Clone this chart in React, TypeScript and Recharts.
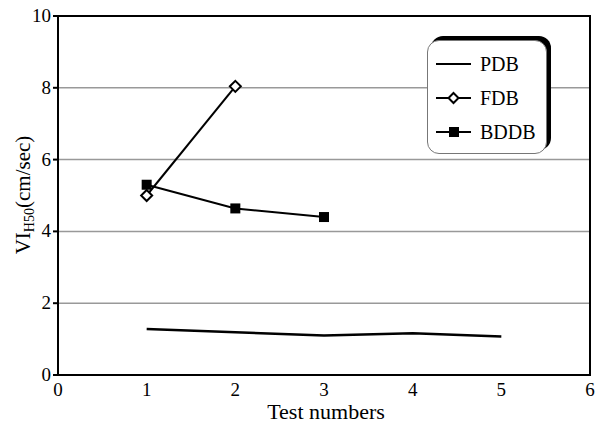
import React from "react";
import {
  LineChart,
  Line,
  XAxis,
  YAxis,
  CartesianGrid,
  ReferenceArea,
} from "recharts";

const testNumbers = [1, 2, 3, 4, 5];
const pdbValues = [1.28, 1.19, 1.1, 1.16, 1.07];
const fdbTests = [1, 2];
const fdbValues = [5.0, 8.04];
const bddbTests = [1, 2, 3];
const bddbValues = [5.3, 4.64, 4.4];
const seriesNames = ["PDB", "FDB", "BDDB"];
const xTicks = [0, 1, 2, 3, 4, 5, 6];
const yTicks = [0, 2, 4, 6, 8, 10];

const pdbData = testNumbers.map((x, i) => ({ x, y: pdbValues[i] }));
const fdbData = fdbTests.map((x, i) => ({ x, y: fdbValues[i] }));
const bddbData = bddbTests.map((x, i) => ({ x, y: bddbValues[i] }));

const FONT = "Liberation Serif";

const Diamond = (props: any) => {
  const { cx, cy } = props;
  if (cx == null || cy == null) return null;
  const r = 5.5;
  return (
    <polygon
      points={`${cx},${cy - r} ${cx + r},${cy} ${cx},${cy + r} ${cx - r},${cy}`}
      fill="#fff"
      stroke="#000"
      strokeWidth={2}
    />
  );
};

const Square = (props: any) => {
  const { cx, cy } = props;
  if (cx == null || cy == null) return null;
  return <rect x={cx - 5} y={cy - 5} width={10} height={10} fill="#000" />;
};

const XTick = (props: any) => {
  const { x, y, payload } = props;
  return (
    <text x={x} y={y + 13} textAnchor="middle" fontFamily={FONT} fontSize={19} fill="#000">
      {payload.value}
    </text>
  );
};

const YTick = (props: any) => {
  const { x, y, payload } = props;
  return (
    <text x={x} y={y + 6} textAnchor="end" fontFamily={FONT} fontSize={19} fill="#000">
      {payload.value}
    </text>
  );
};

const AxisTitles = () => (
  <g>
    <text
      transform="translate(30, 195) rotate(-90)"
      textAnchor="middle"
      fontFamily={FONT}
      fontSize={21}
      fill="#000"
    >
      VI
      <tspan fontSize={14} dy={4}>
        H50
      </tspan>
      <tspan dy={-4}>(cm/sec)</tspan>
    </text>
    <text x={326} y={419} textAnchor="middle" fontFamily={FONT} fontSize={22} fill="#000">
      Test numbers
    </text>
  </g>
);

const shapes = ["none", "diamond", "square"];

// legend drawn as plain html over the chart so it doesn't eat plot width
const LegendBox = () => (
  <div
    style={{
      position: "absolute",
      left: 427,
      top: 40,
      width: 120,
      height: 114,
      border: "1px solid #777",
      borderRadius: 12,
      background: "#fff",
      boxShadow: "4px -4px 0 #000",
      fontFamily: FONT,
      fontSize: 20,
      boxSizing: "border-box",
      paddingTop: 6,
    }}
  >
    {seriesNames.map((name, i) => (
      <div key={name} style={{ display: "flex", alignItems: "center", height: 34 }}>
        <svg width={52} height={20}>
          <line x1={8} y1={10} x2={43} y2={10} stroke="#000" strokeWidth={2} />
          {shapes[i] === "diamond" && (
            <polygon points="25.5,5 30.5,10 25.5,15 20.5,10" fill="#fff" stroke="#000" strokeWidth={2} />
          )}
          {shapes[i] === "square" && <rect x={21} y={5} width={10} height={10} fill="#000" />}
        </svg>
        <span>{name}</span>
      </div>
    ))}
  </div>
);

export default function App() {
  return (
    <div style={{ position: "absolute", left: 0, top: 0, width: 603, height: 432, background: "#fff", fontFamily: FONT }}>
      <LineChart
        width={603}
        height={432}
        margin={{ top: 16, right: 13, bottom: 0, left: 0 }}
        style={{ fontFamily: FONT }}
      >
        <CartesianGrid vertical={false} stroke="#999" strokeWidth={1.5} />
        <XAxis
          type="number"
          dataKey="x"
          domain={[0, 6]}
          ticks={xTicks}
          allowDuplicatedCategory={false}
          stroke="#000"
          strokeWidth={2}
          tickLine={false}
          height={57}
          tick={<XTick />}
        />
        <YAxis
          type="number"
          domain={[0, 10]}
          ticks={yTicks}
          width={58}
          stroke="#000"
          strokeWidth={2}
          tickSize={5}
          tick={<YTick />}
        />
        <ReferenceArea
          x1={0}
          x2={6}
          y1={0}
          y2={10}
          fill="none"
          fillOpacity={0}
          stroke="#000"
          strokeWidth={2}
        />
        <Line
          name={seriesNames[0]}
          data={pdbData}
          dataKey="y"
          stroke="#000"
          strokeWidth={2.5}
          dot={false}
          isAnimationActive={false}
        />
        <Line
          name={seriesNames[1]}
          data={fdbData}
          dataKey="y"
          stroke="#000"
          strokeWidth={2}
          dot={<Diamond />}
          isAnimationActive={false}
        />
        <Line
          name={seriesNames[2]}
          data={bddbData}
          dataKey="y"
          stroke="#000"
          strokeWidth={2}
          dot={<Square />}
          isAnimationActive={false}
        />
        <AxisTitles />
      </LineChart>
      <LegendBox />
    </div>
  );
}
